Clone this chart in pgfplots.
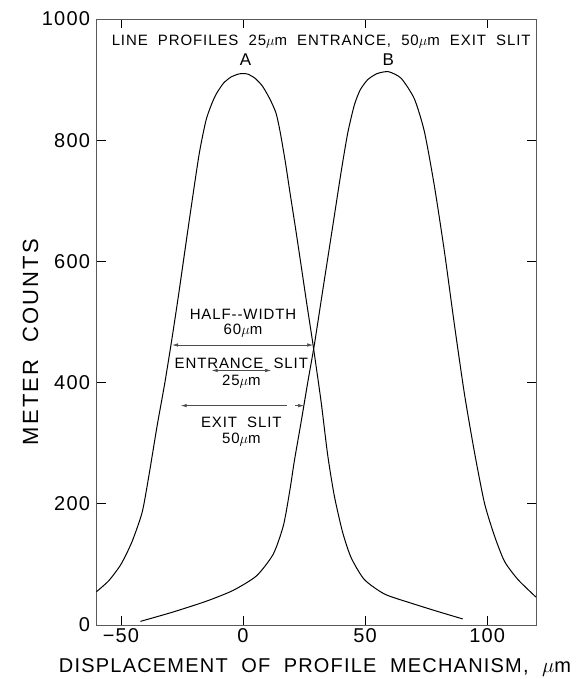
\documentclass[border=0pt]{standalone}
\usepackage{fontspec}
\setmainfont{Liberation Sans}
\newfontfamily\lsfont[LetterSpace=6]{Liberation Sans}
\newfontfamily\wsfont[LetterSpace=10]{Liberation Sans}
\usepackage{pgfplots}
\pgfplotsset{compat=1.18}
\usetikzlibrary{arrows.meta}

\newcommand{\fs}[1]{\fontsize{#1}{#1}\selectfont}
\tikzset{slit/.style={line width=0.6pt, gray!60!black, {Latex[length=6pt,width=3.5pt]}-{Latex[length=6pt,width=3.5pt]}}}

\begin{document}
\begin{tikzpicture}
\path[use as bounding box] (-96.5pt,-54pt) rectangle (480.5pt,625pt);
\begin{axis}[
    at={(0pt,0pt)}, anchor=south west,
    scale only axis,
    width=439.5pt, height=606pt,
    xmin=-60, xmax=120, ymin=0, ymax=1000,
    xtick={-50,0,50,100},
    xticklabels={−50,0,50,100},
    ytick={0,200,400,600,800,1000},
    yticklabels={0,200,400,600,800,1000},
    axis line style={gray!70!black, line width=0.8pt},
    tick style={black, line width=0.6pt},
    major tick length=9pt,
    ticklabel style={font=\lsfont\fs{20}},
    yticklabel style={xshift=-3pt},
    clip=false,
]
% profile A, centred near 0
\addplot[black, line width=1pt, smooth, tension=0.4] coordinates {
(-60,55) (-55,73) (-50,100) (-45.5,137) (-41.3,186) (-38.6,245) (-35.2,328)
(-32,400) (-29,475) (-26.2,550) (-22,668) (-18,776) (-15.2,832) (-13,858)
(-11,876) (-8,894) (-5,904) (-2,909) (0,910) (2,909) (5,902) (8,889) (11,868)
(13.5,845) (15.2,814) (17.3,765) (19.3,712) (21.5,655) (23.7,596) (26.2,528)
(28.7,462) (32,368) (34.7,280) (37.4,213) (40.8,153) (44.3,111) (49.7,75)
(58,51) (68.9,36) (80,22) (90,10)
};
% profile B, centred near 60
\addplot[black, line width=1pt, smooth, tension=0.4] coordinates {
(-42,6) (-29,21) (-15.2,39) (-4.1,57) (5.5,81) (12.4,117) (16.6,165) (19.3,225)
(21,270) (23.8,335) (26.5,400) (29.2,462) (32,535) (34.7,605) (37.4,675)
(40.2,748) (42.9,812) (45.6,858) (48,883) (51.1,900) (55,910) (59.6,913)
(64.8,902) (70.2,868) (74.3,814) (78.4,724) (82.5,616) (86.6,495) (90.7,381)
(94.8,285) (98.9,201) (103,147) (107.1,105) (112.6,75) (120,46)
};

\node[font=\lsfont\fs{15}] at (axis cs:32,963) {LINE\ \ PROFILES\ \ 25$\mu$m\ \ ENTRANCE,\ \ 50$\mu$m\ \ EXIT\ \ SLIT};
\node[font=\lsfont\fs{17}] at (axis cs:1,933) {A};
\node[font=\lsfont\fs{17}] at (axis cs:59.5,933) {B};

\node[font=\lsfont\fs{15}] at (axis cs:0,512) {HALF-{}-WIDTH};
\node[font=\lsfont\fs{15}] at (axis cs:0,485) {60$\mu$m};
\draw[slit] (axis cs:-29,462) -- (axis cs:28.7,462);

\node[font=\lsfont\fs{15}] at (axis cs:-0.7,432) {ENTRANCE\ \ SLIT};
\draw[slit] (axis cs:-12.8,420) -- (axis cs:11.5,420);
\node[font=\lsfont\fs{15}] at (axis cs:-0.7,401) {25$\mu$m};

\draw[line width=0.6pt, gray!60!black, {Latex[length=6pt,width=3.5pt]}-] (axis cs:-25.5,362) -- (axis cs:18,362);
\draw[line width=0.6pt, gray!60!black, -{Latex[length=6pt,width=3.5pt]}] (axis cs:21.5,362) -- (axis cs:25,362);
\node[font=\lsfont\fs{15}] at (axis cs:-0.7,334) {EXIT\ \ SLIT};
\node[font=\lsfont\fs{15}] at (axis cs:-0.7,306) {50$\mu$m};
\end{axis}
\node[rotate=90, font=\wsfont\fs{22}] at (-66pt,283pt) {METER\ \ COUNTS};
\node[font=\lsfont\fs{20}] at (218.5pt,-43pt) {DISPLACEMENT\ \ OF\ \ PROFILE\ \ MECHANISM,\ \ $\mu$m};
\end{tikzpicture}
\end{document}
